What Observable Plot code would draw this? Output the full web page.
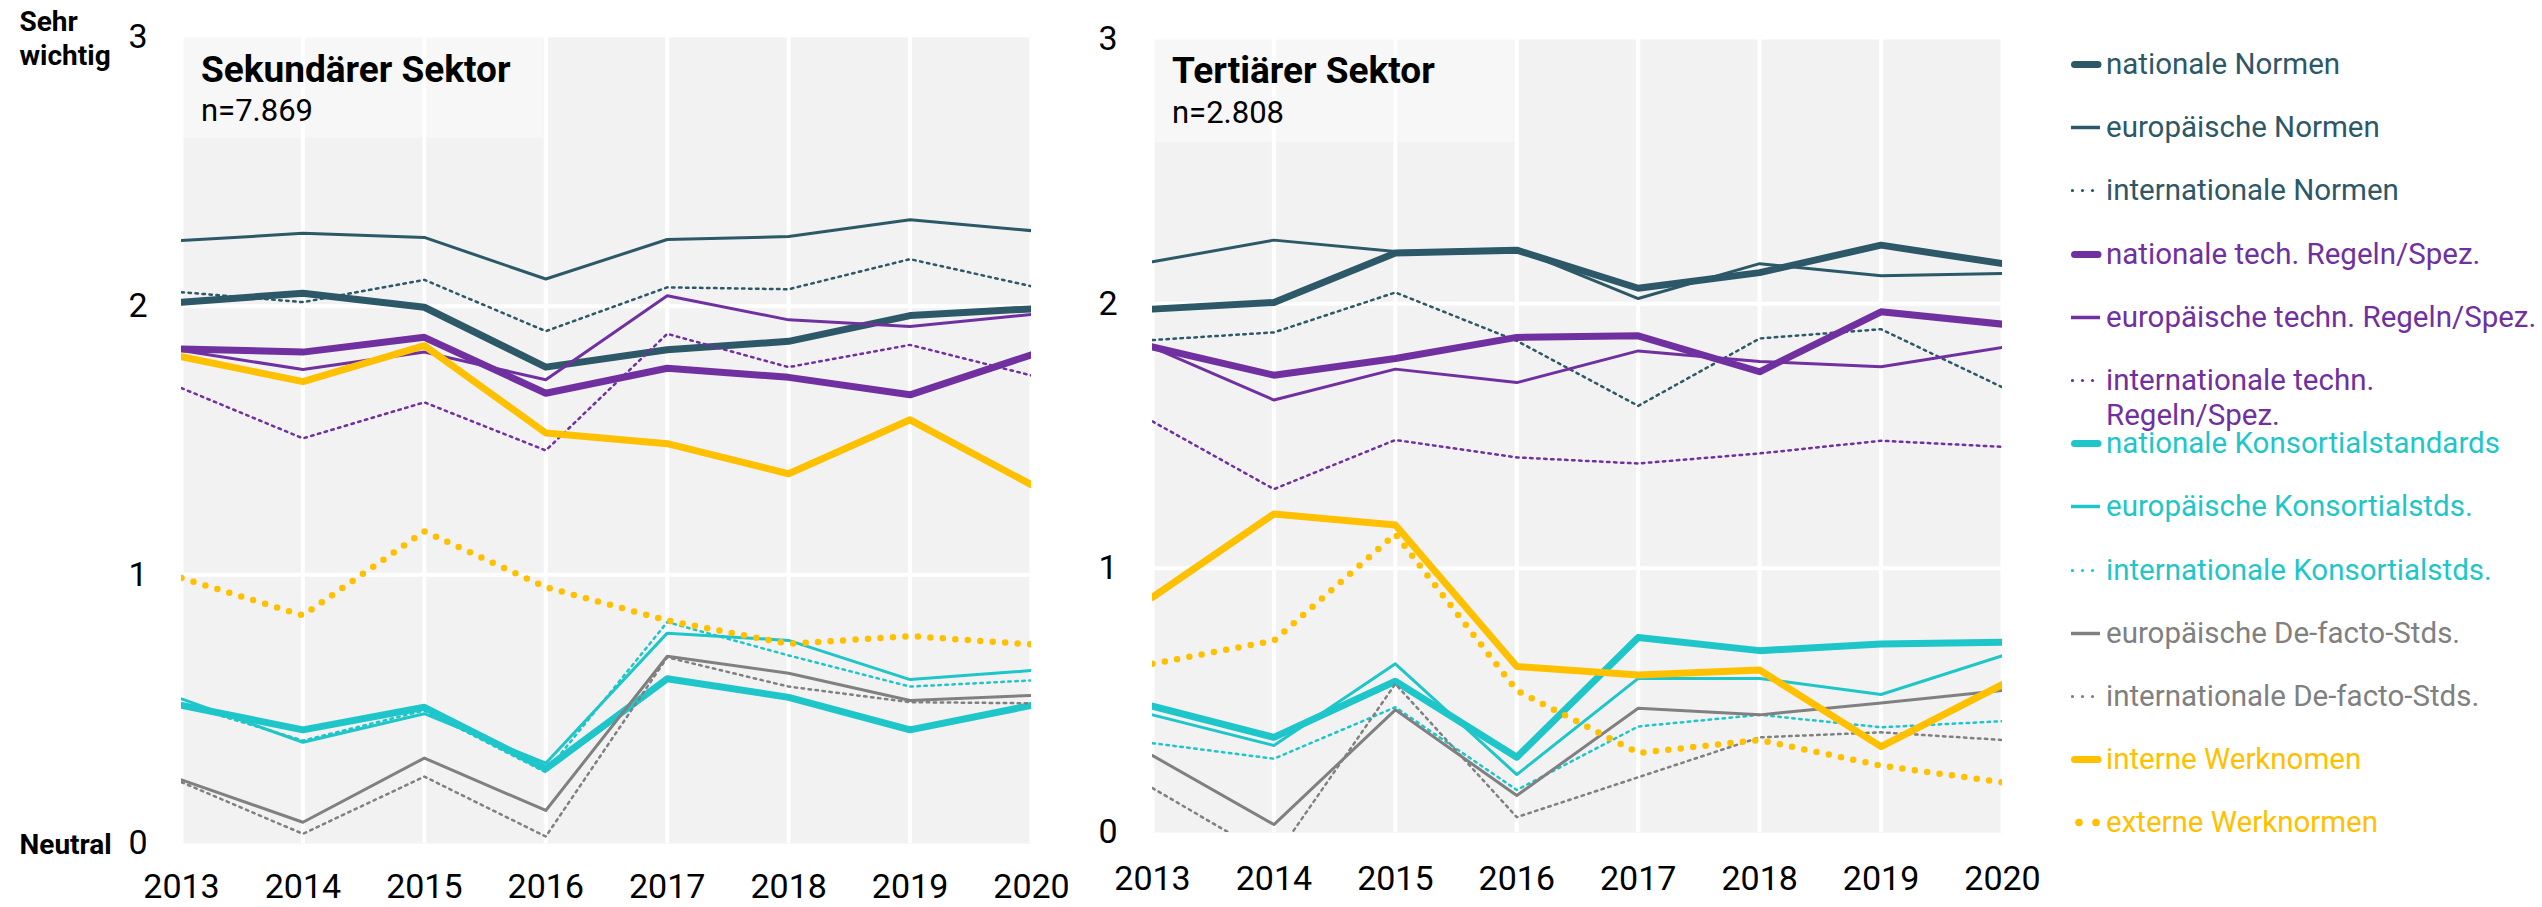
<!DOCTYPE html>
<html>
<head>
<meta charset="utf-8">
<script src="https://cdn.jsdelivr.net/npm/d3@7"></script>
<script src="https://cdn.jsdelivr.net/npm/@observablehq/plot@0.6"></script>
<style>
  html, body { margin: 0; padding: 0; background: #fff; }
  #chart { position: relative; width: 2542px; height: 907px; background: #fff; font-family: Roboto, "Noto Sans", sans-serif; overflow: hidden; }
  .tbox { position: absolute; background: rgba(255,255,255,0.4); }
  .ttl { position: absolute; font-weight: 700; font-size: 37px; line-height: 1; color: #000; white-space: nowrap; }
  .nn { position: absolute; font-weight: 400; font-size: 31px; line-height: 1; color: #000; white-space: nowrap; }
  .lg { position: absolute; left: 2071px; width: 471px; font-size: 29.5px; line-height: 35px; }
  .lg svg { position: absolute; left: 0; top: 0; }
  .lg span { position: absolute; left: 35px; top: 0; width: 436px; }
</style>
</head>
<body>
<div id="chart"></div>
<script>
// ---------- data ----------
const years = [2013, 2014, 2015, 2016, 2017, 2018, 2019, 2020];
const yTicks = [0, 1, 2, 3];

const seriesNames = [
  "nationale Normen",
  "europäische Normen",
  "internationale Normen",
  "nationale tech. Regeln/Spez.",
  "europäische techn. Regeln/Spez.",
  "internationale techn. Regeln/Spez.",
  "nationale Konsortialstandards",
  "europäische Konsortialstds.",
  "internationale Konsortialstds.",
  "europäische De-facto-Stds.",
  "internationale De-facto-Stds.",
  "interne Werknomen",
  "externe Werknormen"
];
const seriesGroup = ["norm","norm","norm","tech","tech","tech","kons","kons","kons","defacto","defacto","werk","werk"];
const seriesKind  = ["national","euro","intl","national","euro","intl","national","euro","intl","euro","intl","national","dots"];

// Sekundärer Sektor (n=7.869)
const sekNatNormen   = [2.015, 2.048, 1.996, 1.773, 1.838, 1.869, 1.965, 1.990];
const sekEurNormen   = [2.244, 2.271, 2.256, 2.101, 2.248, 2.259, 2.322, 2.281];
const sekIntNormen   = [2.052, 2.015, 2.098, 1.907, 2.070, 2.063, 2.175, 2.074];
const sekNatTech     = [1.841, 1.829, 1.884, 1.676, 1.769, 1.735, 1.670, 1.819];
const sekEurTech     = [1.835, 1.764, 1.829, 1.726, 2.039, 1.949, 1.924, 1.969];
const sekIntTech     = [1.695, 1.508, 1.642, 1.463, 1.897, 1.773, 1.856, 1.742];
const sekNatKons     = [0.514, 0.423, 0.507, 0.278, 0.613, 0.544, 0.423, 0.514];
const sekEurKons     = [0.538, 0.377, 0.483, 0.299, 0.783, 0.756, 0.610, 0.644];
const sekIntKons     = [0.520, 0.383, 0.495, 0.265, 0.824, 0.700, 0.584, 0.607];
const sekEurDefacto  = [0.237, 0.079, 0.318, 0.123, 0.697, 0.634, 0.532, 0.551];
const sekIntDefacto  = [0.228, 0.036, 0.249, 0.026, 0.693, 0.584, 0.526, 0.522];
const sekInternWerk  = [1.812, 1.719, 1.853, 1.528, 1.488, 1.376, 1.577, 1.335];
const sekExternWerk  = [0.988, 0.849, 1.162, 0.954, 0.830, 0.743, 0.772, 0.741];

// Tertiärer Sektor (n=2.808)
const terNatNormen   = [1.980, 2.005, 2.192, 2.203, 2.059, 2.118, 2.222, 2.152];
const terEurNormen   = [2.159, 2.241, 2.198, 2.207, 2.020, 2.152, 2.106, 2.115];
const terIntNormen   = [1.863, 1.892, 2.043, 1.860, 1.614, 1.869, 1.904, 1.684];
const terNatTech     = [1.837, 1.730, 1.793, 1.873, 1.879, 1.743, 1.970, 1.923];
const terEurTech     = [1.835, 1.636, 1.753, 1.702, 1.822, 1.782, 1.762, 1.835];
const terIntTech     = [1.555, 1.299, 1.485, 1.419, 1.396, 1.434, 1.482, 1.459];
const terNatKons     = [0.478, 0.360, 0.572, 0.285, 0.738, 0.688, 0.713, 0.720];
const terEurKons     = [0.445, 0.329, 0.638, 0.219, 0.583, 0.583, 0.522, 0.669];
const terIntKons     = [0.338, 0.279, 0.474, 0.161, 0.401, 0.445, 0.398, 0.421];
const terEurDefacto  = [0.291, 0.030, 0.464, 0.140, 0.470, 0.445, 0.490, 0.537];
const terIntDefacto  = [0.168, -0.100, 0.562, 0.058, 0.209, 0.360, 0.379, 0.350];
const terInternWerk  = [0.890, 1.205, 1.163, 0.628, 0.596, 0.615, 0.325, 0.560];
const terExternWerk  = [0.638, 0.726, 1.129, 0.537, 0.301, 0.350, 0.253, 0.190];

const sekValues = [sekNatNormen, sekEurNormen, sekIntNormen, sekNatTech, sekEurTech, sekIntTech,
  sekNatKons, sekEurKons, sekIntKons, sekEurDefacto, sekIntDefacto, sekInternWerk, sekExternWerk];
const terValues = [terNatNormen, terEurNormen, terIntNormen, terNatTech, terEurTech, terIntTech,
  terNatKons, terEurKons, terIntKons, terEurDefacto, terIntDefacto, terInternWerk, terExternWerk];

const panelTitles = ["Sekundärer Sektor", "Tertiärer Sektor"];
const panelN = ["n=7.869", "n=2.808"];
const axisEndLabels = ["Sehr\nwichtig", "Neutral"];

// ---------- styles ----------
const groupColor = { norm: "#2c5868", tech: "#7030a0", kons: "#1fc6c9", defacto: "#808080", werk: "#ffc000" };
const kindStyle = {
  national: { strokeWidth: 7, strokeLinecap: "round" },
  euro:     { strokeWidth: 3 },
  intl:     { strokeWidth: 2.5, strokeDasharray: "2.5,4.5" },
  dots:     { strokeWidth: 6.5, strokeDasharray: "0,12.5", strokeLinecap: "round" }
};

function lineMarks(values) {
  return values.map((vals, i) => {
    const data = years.map((yr, j) => ({ year: yr, v: vals[j], s: seriesNames[i] }));
    return Plot.line(data, {
      x: "year", y: "v",
      stroke: groupColor[seriesGroup[i]],
      strokeLinejoin: "round",
      clip: true,
      ...kindStyle[seriesKind[i]]
    });
  });
}

function panel(values, opts) {
  const marks = [
    Plot.frame({ fill: "#f2f2f2", stroke: null }),
    Plot.gridX({ ticks: years, stroke: "#fff", strokeOpacity: 1, strokeWidth: 4 }),
    Plot.gridY({ ticks: [1, 2], stroke: "#fff", strokeOpacity: 1, strokeWidth: 4 }),
    Plot.axisX({ ticks: years, tickSize: 0, tickPadding: opts.xPad, fontSize: 34, tickFormat: d => String(d), label: null }),
    Plot.axisY({ ticks: yTicks, tickSize: 0, tickPadding: opts.yPad, fontSize: 34, tickFormat: d => String(d), label: null }),
    ...lineMarks(values)
  ];
  if (opts.endLabels) {
    marks.push(Plot.text([{ v: 3, t: axisEndLabels[0] }, { v: 0, t: axisEndLabels[1] }], {
      y: "v", text: "t", frameAnchor: "left", dx: -162, textAnchor: "start",
      fontWeight: "bold", fontSize: 28, lineHeight: 1.2, fill: "#000"
    }));
  }
  return Plot.plot({
    width: opts.width, height: 907,
    marginLeft: opts.ml, marginRight: opts.mr, marginTop: opts.mt, marginBottom: opts.mb,
    x: { type: "linear", domain: [2013, 2020] },
    y: { domain: [0, 3] },
    style: {
      position: "absolute", left: opts.left + "px", top: "0px",
      background: "transparent", fontFamily: "Roboto, sans-serif", color: "#000", overflow: "visible"
    },
    marks
  });
}

const chart = document.getElementById("chart");
chart.appendChild(panel(sekValues, { width: 1060, left: 0, ml: 181, mr: 29, mt: 37, mb: 64, xPad: 30, yPad: 34, endLabels: true }));
chart.appendChild(panel(terValues, { width: 1000, left: 1040, ml: 112, mr: 38, mt: 39, mb: 75, xPad: 33, yPad: 35, endLabels: false }));

// ---------- title boxes ----------
const boxes = [
  { left: 181, top: 37, w: 362, h: 101, tx: 201, tb: 81.7, nb: 120.7 },
  { left: 1152, top: 39, w: 364, h: 103, tx: 1172, tb: 83, nb: 123 }
];
boxes.forEach((b, i) => {
  const box = document.createElement("div");
  box.className = "tbox";
  Object.assign(box.style, { left: b.left + "px", top: b.top + "px", width: b.w + "px", height: b.h + "px" });
  chart.appendChild(box);
  const t = document.createElement("div");
  t.className = "ttl";
  t.textContent = panelTitles[i];
  Object.assign(t.style, { left: b.tx + "px", top: (b.tb - 0.8415 * 37) + "px" });
  chart.appendChild(t);
  const n = document.createElement("div");
  n.className = "nn";
  n.textContent = panelN[i];
  Object.assign(n.style, { left: b.tx + "px", top: (b.nb - 0.8415 * 31) + "px" });
  chart.appendChild(n);
});

// ---------- legend ----------
seriesNames.forEach((name, i) => {
  const cy = 64.5 + 63.2 * i;
  const color = groupColor[seriesGroup[i]];
  const kind = seriesKind[i];
  const item = document.createElement("div");
  item.className = "lg";
  item.style.top = (cy - 17.5) + "px";
  item.style.color = color;
  let sw = "";
  if (kind === "national") sw = `<line x1="3.5" x2="27" y1="17.5" y2="17.5" stroke="${color}" stroke-width="7" stroke-linecap="round"/>`;
  else if (kind === "euro") sw = `<line x1="0" x2="29" y1="17.5" y2="17.5" stroke="${color}" stroke-width="3.5"/>`;
  else if (kind === "intl") sw = [1.5, 11.5, 21.5].map(x => `<circle cx="${x}" cy="17.5" r="1.6" fill="${color}"/>`).join("");
  else sw = [8, 25].map(x => `<circle cx="${x}" cy="17.5" r="3.8" fill="${color}"/>`).join("");
  item.innerHTML = `<svg width="32" height="35">${sw}</svg><span>${name}</span>`;
  chart.appendChild(item);
});
</script>
</body>
</html>
